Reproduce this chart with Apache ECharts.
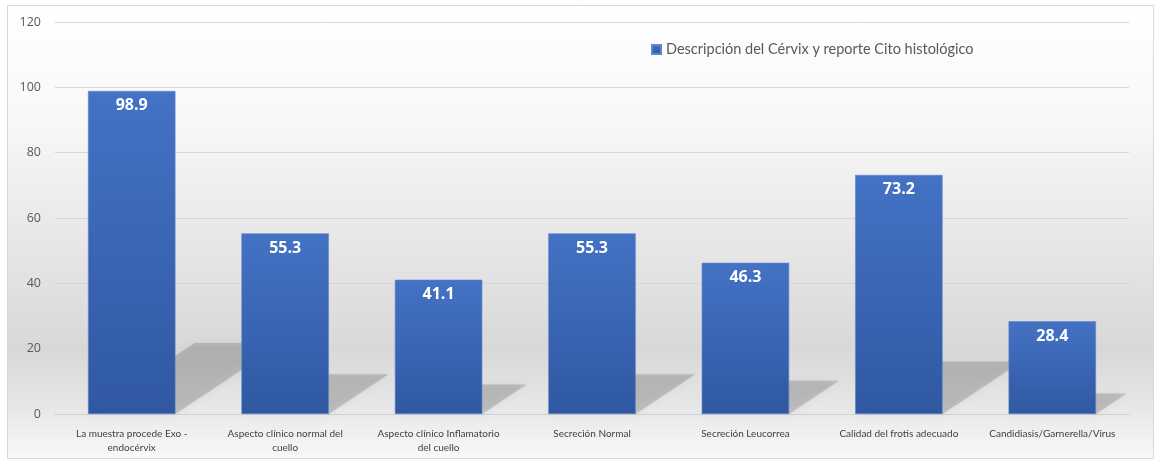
<!DOCTYPE html>
<html>
<head>
<meta charset="utf-8">
<script src="https://cdn.jsdelivr.net/npm/echarts@6/dist/echarts.min.js"></script>
<style>html,body{margin:0;padding:0;background:#fff}#c{width:1162px;height:465px}</style>
</head>
<body>
<div id="c"></div>
<script>
var categories = [
  "La muestra procede Exo -\nendocérvix",
  "Aspecto clínico normal del\ncuello",
  "Aspecto clínico Inflamatorio\ndel cuello",
  "Secreción Normal",
  "Secreción Leucorrea",
  "Calidad del frotis adecuado",
  "Candidiasis/Garnerella/Virus"
];
var values = [98.9, 55.3, 41.1, 55.3, 46.3, 73.2, 28.4];
var seriesName = "Descripción del Cérvix y reporte Cito histológico";
var yTicks = [0, 20, 40, 60, 80, 100, 120];

var chart = echarts.init(document.getElementById('c'));
var BAR_RATIO = 0.57;
chart.setOption({
  animation: false,
  textStyle: { fontFamily: 'Open Sans, Noto Sans, sans-serif' },
  graphic: [{
    type: 'rect', z: -10, left: 7, top: 5, silent: true,
    shape: { width: 1146, height: 453 },
    style: {
      fill: new echarts.graphic.LinearGradient(0, 0, 0, 1, [
        { offset: 0, color: '#ffffff' },
        { offset: 0.25, color: '#f8f8f8' },
        { offset: 0.76, color: '#d8d8d8' },
        { offset: 0.88, color: '#e6e6e6' },
        { offset: 1, color: '#f9f9f9' }
      ]),
      stroke: '#d9d9d9', lineWidth: 1
    }
  }],
  legend: {
    left: 646, top: 37,
    itemWidth: 9, itemHeight: 9, itemGap: 4,
    icon: 'rect',
    textStyle: { color: '#595959', fontSize: 14.5, fontFamily: 'Lato, Open Sans, sans-serif' },
    data: [seriesName]
  },
  grid: { left: 55, right: 33, top: 22, bottom: 51 },
  xAxis: {
    type: 'category',
    data: categories,
    axisLine: { lineStyle: { color: '#d0d0d0' } },
    axisTick: { show: false },
    axisLabel: { color: '#404040', fontSize: 10, lineHeight: 14, margin: 13, interval: 0, fontFamily: 'Lato, Open Sans, sans-serif' }
  },
  yAxis: {
    type: 'value',
    min: 0, max: 120, interval: 20,
    axisLine: { show: false },
    axisTick: { show: false },
    splitLine: { lineStyle: { color: '#d6d6d6' } },
    axisLabel: {
      color: '#595959', fontSize: 12.5, margin: 14,
      formatter: function (v) { return yTicks.indexOf(v) >= 0 ? String(v) : ''; }
    }
  },
  series: [
    {
      type: 'custom',
      name: 'shadow',
      z: 1,
      silent: true,
      data: values.map(function (v, i) { return [i, v]; }),
      renderItem: function (params, api) {
        var i = api.value(0), v = api.value(1);
        var base = api.coord([i, 0]);
        var top = api.coord([i, v]);
        var band = api.size([1, 0])[0];
        var w = band * BAR_RATIO;
        var xL = base[0] - w / 2, xR = base[0] + w / 2;
        var dy = (base[1] - top[1]) * 0.22;
        var dx = dy * 1.5;
        return {
          type: 'polygon',
          shape: { points: [[xL, base[1]], [xR, base[1]], [xR + dx, base[1] - dy], [xL + dx, base[1] - dy]] },
          style: { fill: 'rgba(90,90,90,0.26)', shadowBlur: 6, shadowColor: 'rgba(90,90,90,0.35)' }
        };
      }
    },
    {
      type: 'bar',
      name: seriesName,
      z: 3,
      data: values,
      barWidth: (BAR_RATIO * 100) + '%',
      itemStyle: {
        color: new echarts.graphic.LinearGradient(0, 0, 0, 1, [
          { offset: 0, color: '#4472c4' },
          { offset: 1, color: '#3058a2' }
        ]),
        borderColor: '#5f86cc', borderWidth: 0.6
      },
      label: {
        show: true, position: 'insideTop', distance: 7,
        color: '#ffffff', fontSize: 16, fontWeight: 'bold',
        formatter: function (p) { return p.value.toFixed(1); }
      }
    }
  ]
});
</script>
</body>
</html>
